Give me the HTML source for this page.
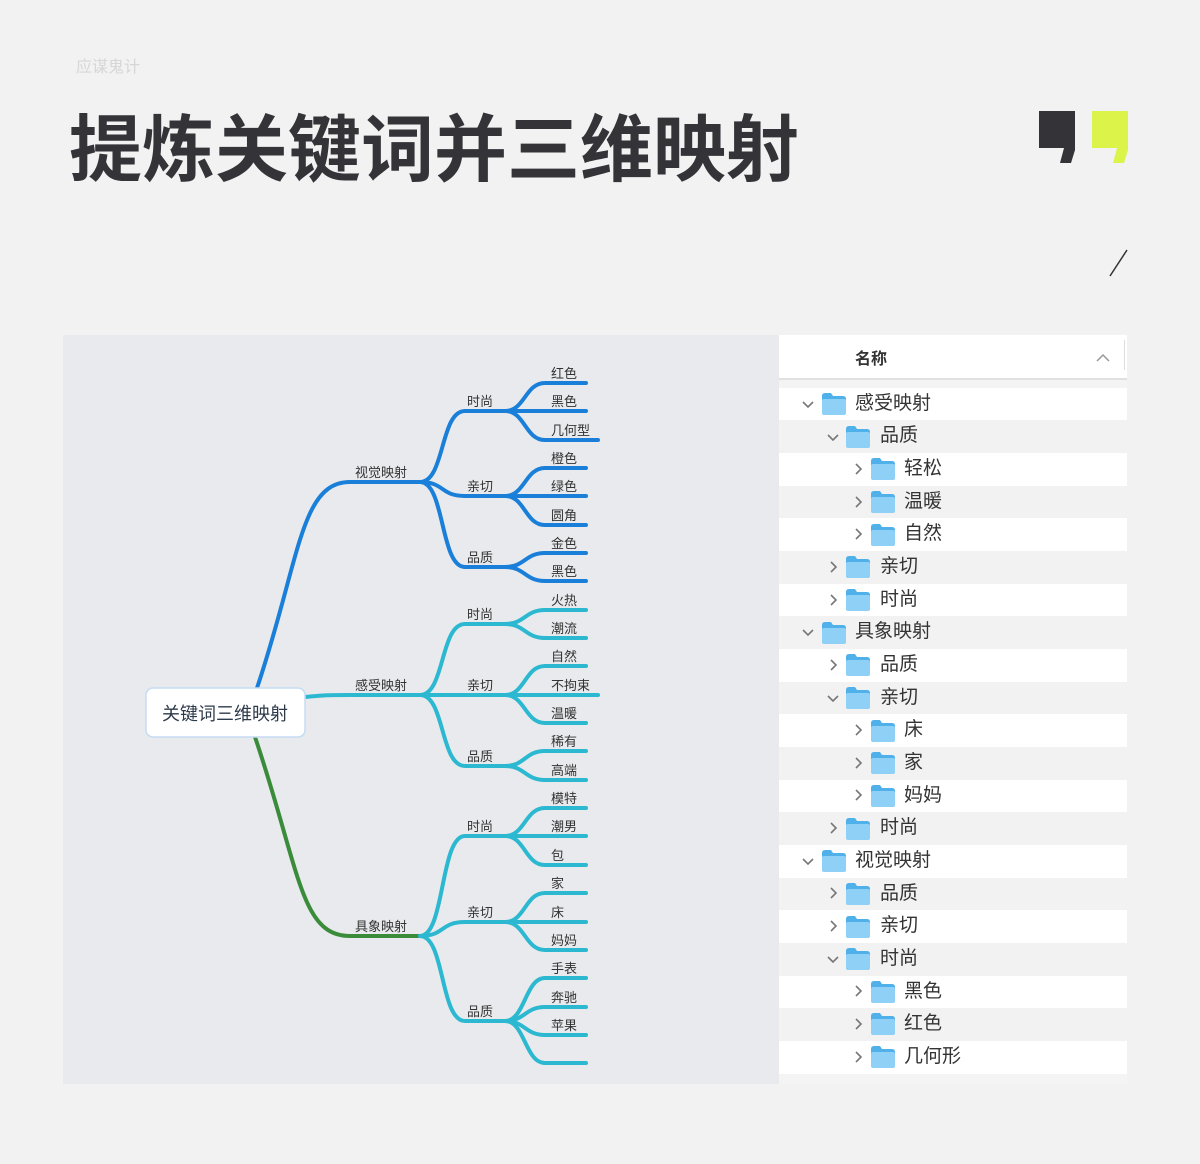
<!DOCTYPE html>
<html><head><meta charset="utf-8"><style>
body{margin:0;width:1200px;height:1164px;background:#f2f2f2;position:relative;overflow:hidden;font-family:"Liberation Sans","Noto Sans CJK SC",sans-serif;}
.abs{position:absolute;white-space:nowrap}
.row{position:absolute;left:779px;width:348px;height:33px}
</style></head><body>
<div class="abs" style="left:76px;top:53px;font-size:16px;color:#d6d6d6">应谋鬼计</div>
<div class="abs" style="left:69px;top:106px;font-size:73px;font-weight:bold;color:#333338;line-height:90px">提炼关键词并三维映射</div>
<svg class="abs" style="left:0;top:0" width="1200" height="300">
<polygon points="1039,111 1075,111 1075,150 1071,163 1060,163 1064,148 1039,148" fill="#333338"/>
<polygon points="1092,111 1128,111 1128,150 1124,163 1113,163 1117,148 1092,148" fill="#dcf34a"/>
<line x1="1127" y1="250" x2="1110" y2="276" stroke="#333" stroke-width="1.5"/>
</svg>
<div class="abs" style="left:63px;top:335px;width:716px;height:749px;background:#e8eaed"></div>
<div class="abs" style="left:779px;top:335px;width:348px;height:749px;background:#f4f4f4"></div>
<div class="abs" style="left:779px;top:335px;width:348px;height:43px;background:#fff;border-bottom:2px solid #e0e0e0"></div>
<div class="abs" style="left:855px;top:345px;font-size:16px;font-weight:bold;color:#333">名称</div>
<svg class="abs" style="left:1090px;top:350px" width="30" height="16"><polyline points="7,11 13,5 19,11" fill="none" stroke="#999" stroke-width="1.5"/></svg>
<div class="abs" style="left:1124px;top:340px;width:1px;height:30px;background:#ddd"></div>

<svg class="abs" style="left:0;top:0" width="1200" height="1164" font-family="Liberation Sans, Noto Sans CJK SC, sans-serif">
<defs>
<g id="fold"><path d="M0,3 Q0,0 3,0 L9,0 L11,3 L21,3 Q24,3 24,6 L24,19 Q24,22 21,22 L3,22 Q0,22 0,19 Z" fill="#4fb0ea"/><rect x="0" y="6" width="24" height="16" rx="2" fill="#8fd0f7"/></g>
<polyline id="cd" points="0,0 5,5 10,0" fill="none" stroke="#777" stroke-width="1.6"/>
<polyline id="cr" points="0,0 5,5 0,10" fill="none" stroke="#777" stroke-width="1.6"/>
</defs>
<g fill="none" stroke-linecap="round" stroke-width="4">
<path d="M257 688 C300 560,300 482,350 482 L420 482" stroke="#1a7fd8"/>
<path d="M305 697 C325 695,330 695,350 695 L420 695" stroke="#2bb8d0"/>
<path d="M255 737 C300 870,300 936,350 936 L420 936" stroke="#3a8c3a"/>
<g stroke="#1a7fd8">
<path d="M420 482 C445 482,440 411,465 411 L505 411"/>
<path d="M420 482 C445 482,440 496,465 496 L505 496"/>
<path d="M420 482 C445 482,440 567,465 567 L505 567"/>
<path d="M505 411 C525 411,525 383,545 383 L586 383"/><path d="M505 411 L586 411"/><path d="M505 411 C525 411,525 440,545 440 L598 440"/>
<path d="M505 496 C525 496,525 468,545 468 L586 468"/><path d="M505 496 L586 496"/><path d="M505 496 C525 496,525 525,545 525 L586 525"/>
<path d="M505 567 C525 567,525 553,545 553 L586 553"/><path d="M505 567 C525 567,525 581,545 581 L586 581"/>
</g>
<g stroke="#2bb8d0">
<path d="M420 695 C445 695,440 624,465 624 L505 624"/>
<path d="M420 695 L505 695"/>
<path d="M420 695 C445 695,440 766,465 766 L505 766"/>
<path d="M505 624 C525 624,525 610,545 610 L586 610"/><path d="M505 624 C525 624,525 638,545 638 L586 638"/>
<path d="M505 695 C525 695,525 666,545 666 L586 666"/><path d="M505 695 L598 695"/><path d="M505 695 C525 695,525 723,545 723 L586 723"/>
<path d="M505 766 C525 766,525 751,545 751 L586 751"/><path d="M505 766 C525 766,525 780,545 780 L586 780"/>
<path d="M420 936 C445 936,440 836,465 836 L505 836"/>
<path d="M420 936 C445 936,440 922,465 922 L505 922"/>
<path d="M420 936 C445 936,440 1021,465 1021 L505 1021"/>
<path d="M505 836 C525 836,525 808,545 808 L586 808"/><path d="M505 836 L586 836"/><path d="M505 836 C525 836,525 865,545 865 L586 865"/>
<path d="M505 922 C525 922,525 893,545 893 L586 893"/><path d="M505 922 L586 922"/><path d="M505 922 C525 922,525 950,545 950 L586 950"/>
<path d="M505 1021 C525 1021,525 978,545 978 L586 978"/><path d="M505 1021 C525 1021,525 1007,545 1007 L586 1007"/><path d="M505 1021 C525 1021,525 1035,545 1035 L586 1035"/><path d="M505 1021 C525 1021,525 1063,545 1063 L586 1063"/>
</g>
</g>
<rect x="146" y="688" width="159" height="49" rx="7" fill="#fff" stroke="#c5dcf3" stroke-width="1.5"/>
<text x="225" y="720" font-size="18" fill="#2d3a4a" text-anchor="middle">关键词三维映射</text>
<g font-size="13" fill="#333">
<text x="355" y="477">视觉映射</text><text x="355" y="690">感受映射</text><text x="355" y="931">具象映射</text>
<text x="467" y="406">时尚</text><text x="467" y="491">亲切</text><text x="467" y="562">品质</text>
<text x="467" y="619">时尚</text><text x="467" y="690">亲切</text><text x="467" y="761">品质</text>
<text x="467" y="831">时尚</text><text x="467" y="917">亲切</text><text x="467" y="1016">品质</text>
<text x="551" y="378">红色</text><text x="551" y="406">黑色</text><text x="551" y="435">几何型</text>
<text x="551" y="463">橙色</text><text x="551" y="491">绿色</text><text x="551" y="520">圆角</text>
<text x="551" y="548">金色</text><text x="551" y="576">黑色</text>
<text x="551" y="605">火热</text><text x="551" y="633">潮流</text>
<text x="551" y="661">自然</text><text x="551" y="690">不拘束</text><text x="551" y="718">温暖</text>
<text x="551" y="746">稀有</text><text x="551" y="775">高端</text>
<text x="551" y="803">模特</text><text x="551" y="831">潮男</text><text x="551" y="860">包</text>
<text x="551" y="888">家</text><text x="551" y="917">床</text><text x="551" y="945">妈妈</text>
<text x="551" y="973">手表</text><text x="551" y="1002">奔驰</text><text x="551" y="1030">苹果</text>
</g>
</svg>

<div class="row" style="top:388px;background:#fff"></div>
<div class="row" style="top:420px;background:#f2f2f2"></div>
<div class="row" style="top:453px;background:#fff"></div>
<div class="row" style="top:486px;background:#f2f2f2"></div>
<div class="row" style="top:518px;background:#fff"></div>
<div class="row" style="top:551px;background:#f2f2f2"></div>
<div class="row" style="top:584px;background:#fff"></div>
<div class="row" style="top:616px;background:#f2f2f2"></div>
<div class="row" style="top:649px;background:#fff"></div>
<div class="row" style="top:682px;background:#f2f2f2"></div>
<div class="row" style="top:714px;background:#fff"></div>
<div class="row" style="top:747px;background:#f2f2f2"></div>
<div class="row" style="top:780px;background:#fff"></div>
<div class="row" style="top:812px;background:#f2f2f2"></div>
<div class="row" style="top:845px;background:#fff"></div>
<div class="row" style="top:878px;background:#f2f2f2"></div>
<div class="row" style="top:910px;background:#fff"></div>
<div class="row" style="top:943px;background:#f2f2f2"></div>
<div class="row" style="top:976px;background:#fff"></div>
<div class="row" style="top:1008px;background:#f2f2f2"></div>
<div class="row" style="top:1041px;background:#fff"></div>

<svg class="abs" style="left:0;top:0" width="1200" height="1164">
<g transform="translate(803,402)"><use href="#cd"/></g><g transform="translate(822,393)"><use href="#fold"/></g>
<g transform="translate(828,435)"><use href="#cd"/></g><g transform="translate(846,426)"><use href="#fold"/></g>
<g transform="translate(856,464)"><use href="#cr"/></g><g transform="translate(871,458)"><use href="#fold"/></g>
<g transform="translate(856,497)"><use href="#cr"/></g><g transform="translate(871,491)"><use href="#fold"/></g>
<g transform="translate(856,529)"><use href="#cr"/></g><g transform="translate(871,524)"><use href="#fold"/></g>
<g transform="translate(831,562)"><use href="#cr"/></g><g transform="translate(846,556)"><use href="#fold"/></g>
<g transform="translate(831,595)"><use href="#cr"/></g><g transform="translate(846,589)"><use href="#fold"/></g>
<g transform="translate(803,630)"><use href="#cd"/></g><g transform="translate(822,622)"><use href="#fold"/></g>
<g transform="translate(831,660)"><use href="#cr"/></g><g transform="translate(846,654)"><use href="#fold"/></g>
<g transform="translate(828,696)"><use href="#cd"/></g><g transform="translate(846,687)"><use href="#fold"/></g>
<g transform="translate(856,725)"><use href="#cr"/></g><g transform="translate(871,720)"><use href="#fold"/></g>
<g transform="translate(856,758)"><use href="#cr"/></g><g transform="translate(871,752)"><use href="#fold"/></g>
<g transform="translate(856,790)"><use href="#cr"/></g><g transform="translate(871,785)"><use href="#fold"/></g>
<g transform="translate(831,823)"><use href="#cr"/></g><g transform="translate(846,818)"><use href="#fold"/></g>
<g transform="translate(803,859)"><use href="#cd"/></g><g transform="translate(822,850)"><use href="#fold"/></g>
<g transform="translate(831,888)"><use href="#cr"/></g><g transform="translate(846,883)"><use href="#fold"/></g>
<g transform="translate(831,921)"><use href="#cr"/></g><g transform="translate(846,916)"><use href="#fold"/></g>
<g transform="translate(828,957)"><use href="#cd"/></g><g transform="translate(846,948)"><use href="#fold"/></g>
<g transform="translate(856,986)"><use href="#cr"/></g><g transform="translate(871,981)"><use href="#fold"/></g>
<g transform="translate(856,1019)"><use href="#cr"/></g><g transform="translate(871,1013)"><use href="#fold"/></g>
<g transform="translate(856,1052)"><use href="#cr"/></g><g transform="translate(871,1046)"><use href="#fold"/></g>
</svg>
<div style="position:absolute;left:0;top:0;width:1200px;font-size:19px;color:#333;line-height:24px;white-space:nowrap">
<span class="abs" style="left:855px;top:392px">感受映射</span>
<span class="abs" style="left:880px;top:424px">品质</span>
<span class="abs" style="left:904px;top:457px">轻松</span>
<span class="abs" style="left:904px;top:490px">温暖</span>
<span class="abs" style="left:904px;top:522px">自然</span>
<span class="abs" style="left:880px;top:555px">亲切</span>
<span class="abs" style="left:880px;top:588px">时尚</span>
<span class="abs" style="left:855px;top:620px">具象映射</span>
<span class="abs" style="left:880px;top:653px">品质</span>
<span class="abs" style="left:880px;top:686px">亲切</span>
<span class="abs" style="left:904px;top:718px">床</span>
<span class="abs" style="left:904px;top:751px">家</span>
<span class="abs" style="left:904px;top:784px">妈妈</span>
<span class="abs" style="left:880px;top:816px">时尚</span>
<span class="abs" style="left:855px;top:849px">视觉映射</span>
<span class="abs" style="left:880px;top:882px">品质</span>
<span class="abs" style="left:880px;top:914px">亲切</span>
<span class="abs" style="left:880px;top:947px">时尚</span>
<span class="abs" style="left:904px;top:980px">黑色</span>
<span class="abs" style="left:904px;top:1012px">红色</span>
<span class="abs" style="left:904px;top:1045px">几何形</span>
</div>
</body></html>
